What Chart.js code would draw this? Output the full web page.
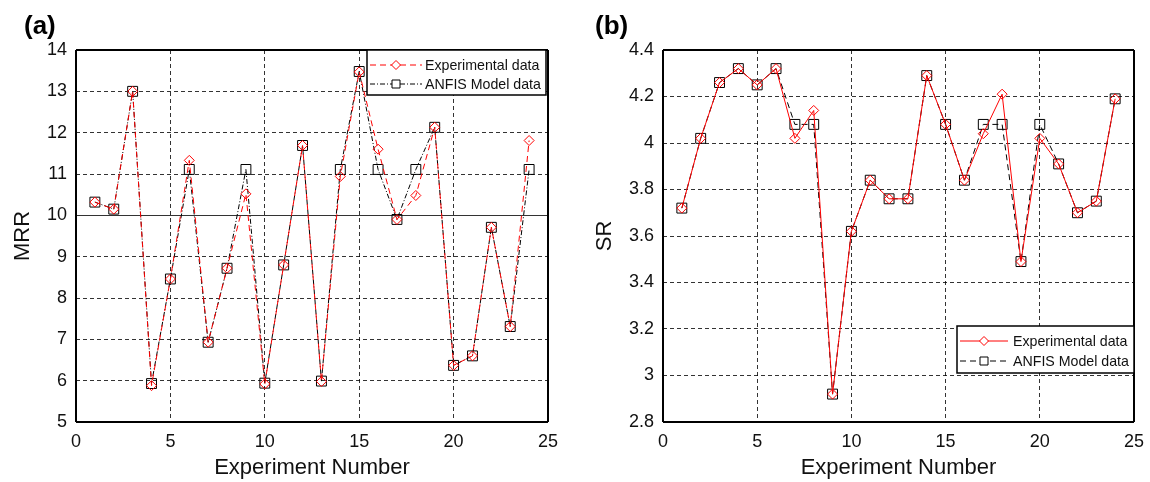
<!DOCTYPE html>
<html>
<head>
<meta charset="utf-8">
<script src="https://cdn.jsdelivr.net/npm/chart.js@4.4.1/dist/chart.umd.min.js"></script>
<style>
  html, body { margin: 0; padding: 0; background: #fff; }
  #wrap { position: relative; width: 1150px; height: 482px; overflow: hidden; }
  canvas { position: absolute; top: 0; }
  #chartMRR { left: 0; }
  #chartSR { left: 575px; }
</style>
</head>
<body>
<div id="wrap">
  <canvas id="chartMRR" width="575" height="482"></canvas>
  <canvas id="chartSR" width="575" height="482"></canvas>
</div>
<script>
// Experiment runs
const experiments = [1, 2, 3, 4, 5, 6, 7, 8, 9, 10, 11, 12, 13, 14, 15, 16, 17, 18, 19, 20, 21, 22, 23, 24];

// Material removal rate
const mrrExperimental = [10.32, 10.15, 13.0, 5.88, 8.46, 11.33, 6.93, 8.72, 10.52, 5.92, 8.8, 11.69, 5.98, 10.94, 13.47, 11.6, 9.9, 10.48, 12.13, 6.37, 6.6, 9.71, 7.31, 11.81];
const mrrAnfis = [10.32, 10.15, 13.0, 5.93, 8.46, 11.11, 6.93, 8.72, 11.11, 5.94, 8.8, 11.69, 5.99, 11.11, 13.48, 11.11, 9.9, 11.11, 12.13, 6.37, 6.6, 9.71, 7.31, 11.11];

// Surface roughness
const srExperimental = [3.72, 4.02, 4.26, 4.32, 4.25, 4.32, 4.02, 4.14, 2.92, 3.62, 3.84, 3.76, 3.76, 4.29, 4.08, 3.84, 4.04, 4.21, 3.49, 4.02, 3.91, 3.70, 3.75, 4.19];
const srAnfis = [3.72, 4.02, 4.26, 4.32, 4.25, 4.32, 4.08, 4.08, 2.92, 3.62, 3.84, 3.76, 3.76, 4.29, 4.08, 3.84, 4.08, 4.08, 3.49, 4.08, 3.91, 3.70, 3.75, 4.19];

// Tick labels
const xTicks = [0, 5, 10, 15, 20, 25];
const mrrTicks = [5, 6, 7, 8, 9, 10, 11, 12, 13, 14];
const srTicks = [2.8, 3.0, 3.2, 3.4, 3.6, 3.8, 4.0, 4.2, 4.4];

const legendNames = ['Experimental data', 'ANFIS Model data'];

const FONT = "Arial, 'Liberation Sans', Helvetica, sans-serif";
const RED = '#ff0000';
const BLACK = '#000000';

function points(values) {
  return experiments.map((n, i) => ({ x: n, y: values[i] }));
}

// Grid: frame edges solid and heavier, inner lines dotted (except any listed as solid)
function axisOpts(ticks, extra) {
  const lo = ticks[0], hi = ticks[ticks.length - 1];
  const solid = (extra && extra.solid) || [];
  const isEdge = c => c.tick && (c.tick.value === lo || c.tick.value === hi);
  return {
    type: 'linear',
    min: lo,
    max: hi,
    afterBuildTicks: s => { s.ticks = ticks.map(v => ({ value: v })); },
    grid: {
      drawTicks: false,
      color: c => isEdge(c) ? BLACK : 'rgba(0,0,0,0.8)',
      lineWidth: c => isEdge(c) ? 2 : 1
    },
    border: {
      display: false,
      dash: c => (isEdge(c) || (c.tick && solid.includes(c.tick.value))) ? [] : [4, 3]
    },
    ticks: {
      color: '#111',
      font: { family: FONT, size: 18 },
      padding: 9,
      callback: v => String(+Number(v).toFixed(2))
    }
  };
}

function boxLegend(box) {
  return {
    id: 'boxLegend',
    afterDatasetsDraw(chart) {
      const ctx = chart.ctx;
      ctx.save();
      ctx.fillStyle = '#fff';
      ctx.fillRect(box.x, box.y, box.w, box.h);
      ctx.strokeStyle = BLACK;
      ctx.lineWidth = 1.5;
      ctx.setLineDash([]);
      ctx.strokeRect(box.x, box.y, box.w, box.h);
      chart.data.datasets.forEach((ds, i) => {
        const y = box.rows[i];
        ctx.strokeStyle = ds.borderColor;
        ctx.lineWidth = 1;
        ctx.setLineDash(ds.borderDash || []);
        ctx.beginPath();
        ctx.moveTo(box.lineX0, y);
        ctx.lineTo(box.lineX1, y);
        ctx.stroke();
        ctx.setLineDash([]);
        const mx = (box.lineX0 + box.lineX1) / 2;
        ctx.fillStyle = '#fff';
        ctx.beginPath();
        if (ds.pointStyle === 'rectRot') {
          const r = 4.5;
          ctx.moveTo(mx, y - r); ctx.lineTo(mx + r, y); ctx.lineTo(mx, y + r); ctx.lineTo(mx - r, y); ctx.closePath();
        } else {
          ctx.rect(mx - 4, y - 4, 8, 8);
        }
        ctx.fill();
        ctx.stroke();
        ctx.fillStyle = '#111';
        ctx.font = box.font + 'px ' + FONT;
        ctx.textBaseline = 'middle';
        ctx.textAlign = 'left';
        ctx.fillText(ds.label, box.textX, y + 1);
      });
      ctx.restore();
    }
  };
}

function panelLetter(text, x, y) {
  return {
    id: 'panelLetter',
    afterDraw(chart) {
      const ctx = chart.ctx;
      ctx.save();
      ctx.fillStyle = BLACK;
      ctx.font = 'bold 26px ' + FONT;
      ctx.textBaseline = 'middle';
      ctx.textAlign = 'left';
      ctx.fillText(text, x, y);
      ctx.restore();
    }
  };
}

function makeChart(canvasId, cfg) {
  const xAxis = axisOpts(xTicks);
  xAxis.position = 'bottom';
  xAxis.title = { display: true, text: 'Experiment Number', color: '#111', font: { family: FONT, size: 22 }, padding: { top: 0, bottom: 1 } };
  xAxis.afterFit = s => { s.height = 60; s.paddingLeft = 0; s.paddingRight = 0; s.paddingTop = 0; s.paddingBottom = 0; };

  const yAxis = axisOpts(cfg.yTicks, { solid: cfg.solid });
  yAxis.position = 'left';
  yAxis.title = { display: true, text: cfg.yTitle, color: '#111', font: { family: FONT, size: 22 }, padding: { top: cfg.yTitlePad, bottom: 0 } };
  yAxis.afterFit = s => { s.width = cfg.yWidth; s.paddingLeft = 0; s.paddingRight = 0; s.paddingTop = 0; s.paddingBottom = 0; };

  return new Chart(document.getElementById(canvasId), {
    type: 'line',
    data: {
      datasets: [
        {
          label: legendNames[0],
          data: points(cfg.exp),
          borderColor: RED,
          borderWidth: 1,
          borderDash: cfg.expDash,
          pointStyle: 'rectRot',
          pointRadius: 5,
          pointHoverRadius: 5,
          pointBorderColor: RED,
          pointBackgroundColor: 'rgba(255,255,255,0)',
          pointBorderWidth: 1,
          tension: 0,
          fill: false
        },
        {
          label: legendNames[1],
          data: points(cfg.anfis),
          borderColor: BLACK,
          borderWidth: 1,
          borderDash: cfg.anfisDash,
          pointStyle: 'rect',
          pointRadius: 7,
          pointHoverRadius: 7,
          pointBorderColor: BLACK,
          pointBackgroundColor: 'rgba(255,255,255,0)',
          pointBorderWidth: 1,
          tension: 0,
          fill: false
        }
      ]
    },
    options: {
      responsive: false,
      animation: false,
      devicePixelRatio: 1,
      layout: { padding: { left: 0, top: 50, right: cfg.padRight, bottom: 0 } },
      plugins: { legend: { display: false }, tooltip: { enabled: false } },
      scales: { x: xAxis, y: yAxis }
    },
    plugins: [boxLegend(cfg.legend), panelLetter(cfg.letter, cfg.letterX, 27)]
  });
}

makeChart('chartMRR', {
  exp: mrrExperimental,
  anfis: mrrAnfis,
  yTicks: mrrTicks,
  solid: [10],
  yTitle: 'MRR',
  yTitlePad: 10,
  yWidth: 76,
  padRight: 27,
  expDash: [6, 4],
  anfisDash: [5, 2, 1, 2],
  letter: '(a)',
  letterX: 24,
  legend: { x: 367, y: 50, w: 179, h: 45, rows: [65, 84], lineX0: 370, lineX1: 422, textX: 425, font: 14.2 }
});

makeChart('chartSR', {
  exp: srExperimental,
  anfis: srAnfis,
  yTicks: srTicks,
  solid: [],
  yTitle: 'SR',
  yTitlePad: 17,
  yWidth: 88,
  padRight: 16,
  expDash: [],
  anfisDash: [6, 4],
  letter: '(b)',
  letterX: 20,
  legend: { x: 382, y: 326, w: 177, h: 47, rows: [341, 361], lineX0: 385, lineX1: 433, textX: 438, font: 14.2 }
});
</script>
</body>
</html>
